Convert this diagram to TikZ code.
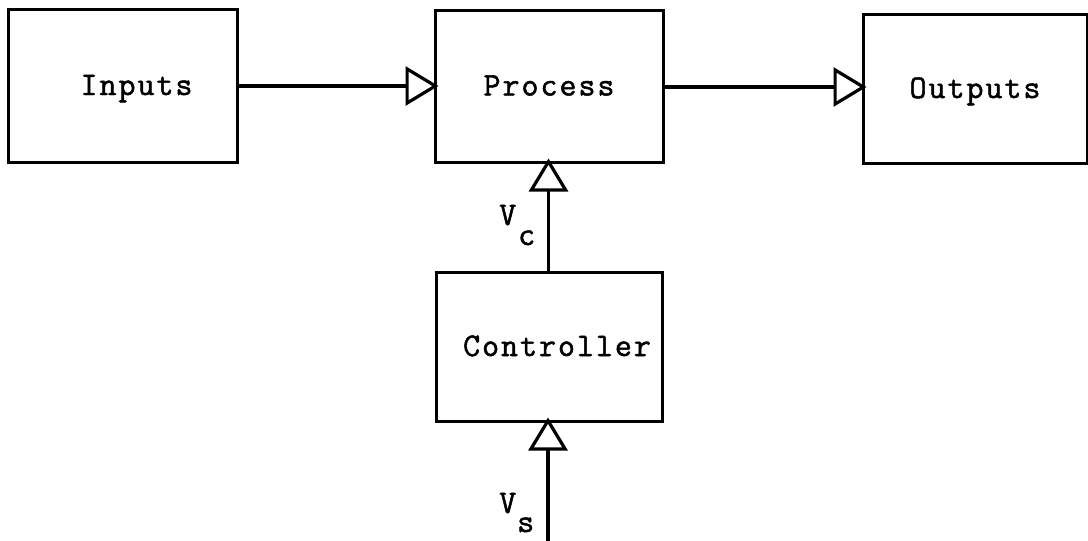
\documentclass[tikz,border=0pt]{standalone}
\usepackage{fontspec}
\newfontfamily\typew[FakeBold=1.5, LetterSpace=6]{Latin Modern Mono}
\usetikzlibrary{arrows.meta}
\begin{document}
\begin{tikzpicture}[x=1pt,y=-1pt,
  blk/.style={draw=black, line width=3pt, rectangle, inner sep=0pt,
    font=\typew\fontsize{33}{33}\selectfont, text height=19pt, text depth=0pt},
  lbl/.style={inner sep=0pt, font=\typew\fontsize{33}{33}\selectfont},
  flow/.style={draw=black, line width=3.4pt, shorten >=-5pt,
    -{Triangle[open, length=33pt, width=39pt, line width=3.2pt]}}]
\useasboundingbox (0,0) rectangle (1088,541);
\fill[white] (0,0) rectangle (1088,541);
\node[blk, minimum width=229pt, minimum height=153pt] (inp) at (122.5,85.5) {\hspace*{28pt}Inputs};
\node[blk, minimum width=228pt, minimum height=152pt] (proc) at (549,86) {Process};
\node[blk, minimum width=224pt, minimum height=149pt] (outp) at (975,88.5) {Outputs};
\node[blk, minimum width=226pt, minimum height=149pt] (ctrl) at (549,346.5) {\hspace*{16pt}Controller};
\coordinate (vsin) at (548,545);
\draw[flow] (inp.east |- 0,86) -- (proc.west |- 0,86);
\draw[flow] (proc.east |- 0,87) -- (outp.west |- 0,87);
\draw[flow] (ctrl.north -| 548.5,0) -- (proc.south -| 548.5,0);
\draw[flow] (vsin) -- (ctrl.south -| 548,0);
\node[lbl, anchor=base west] (vc) at (499,225) {V\kern2pt\raisebox{-20pt}{c}};
\node[lbl, anchor=base west] (vs) at (499,513) {V\kern1pt\raisebox{-19pt}{s}};
\end{tikzpicture}
\end{document}
